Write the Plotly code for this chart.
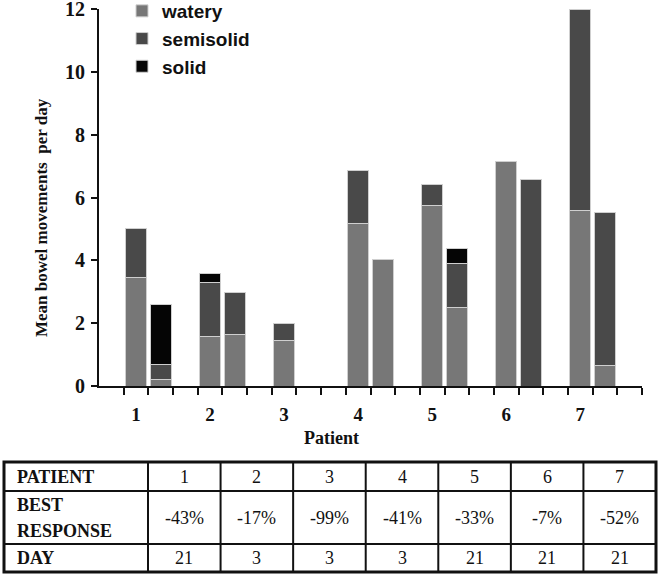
import plotly.graph_objects as go

# ---------------- data ----------------
patients = ["1", "2", "3", "4", "5", "6", "7"]
# first bar of each patient
watery_first = [3.45, 1.57, 1.46, 5.18, 5.74, 7.16, 5.58]
semisolid_first = [1.57, 1.73, 0.52, 1.69, 0.68, 0.0, 6.42]
solid_first = [0.0, 0.29, 0.0, 0.0, 0.0, 0.0, 0.0]
# second bar of each patient
watery_second = [0.21, 1.65, 0.0, 4.03, 2.51, 0.0, 0.65]
semisolid_second = [0.46, 1.33, 0.0, 0.0, 1.38, 6.56, 4.87]
solid_second = [1.91, 0.0, 0.0, 0.0, 0.49, 0.0, 0.0]

y_ticks = [0, 2, 4, 6, 8, 10, 12]

table_row_labels = ["PATIENT", "BEST RESPONSE", "DAY"]
best_response = ["-43%", "-17%", "-99%", "-41%", "-33%", "-7%", "-52%"]
day = ["21", "3", "3", "3", "21", "21", "21"]

series_names = ["watery", "semisolid", "solid"]
colors = {"watery": "#777777", "semisolid": "#494949", "solid": "#050505"}

# ---------------- layout helpers ----------------
W, H = 660, 577
PL, PR, PT, PB = 99, 642, 9, 386   # plot area in pixels


def px(x):
    return (x - PL) / (PR - PL)


def py(y):
    return (PB - y) / (PB - PT)


n = len(patients)
x_first = [3 * i + 1.5 for i in range(n)]
x_second = [3 * i + 2.5 for i in range(n)]
x_bars = x_first + x_second


def nz(v):
    return [val if val > 0 else None for val in v]


series = {
    "watery": watery_first + watery_second,
    "semisolid": semisolid_first + semisolid_second,
    "solid": solid_first + solid_second,
}

fig = go.Figure()
for name in series_names:
    fig.add_trace(go.Bar(
        x=x_bars, y=nz(series[name]), name=name,
        width=0.85,
        marker=dict(color=colors[name], line=dict(color="#cfcfcf", width=1)),
    ))

serif = "Liberation Serif, Times New Roman, serif"
sans = "Liberation Sans, Arial, sans-serif"

fig.update_layout(
    width=W, height=H,
    barmode="stack",
    plot_bgcolor="white", paper_bgcolor="white",
    margin=dict(l=PL, r=W - PR, t=PT, b=H - PB, autoexpand=False),
    showlegend=True,
    legend=dict(
        x=px(122), y=py(-8), xanchor="left", yanchor="top",
        font=dict(family=sans, size=19, color="#111111", weight="bold"),
        bgcolor="rgba(0,0,0,0)", traceorder="normal",
        itemwidth=30,
    ),
    xaxis=dict(
        range=[0, 3 * n + 1], showgrid=False, zeroline=False,
        showline=True, linecolor="#111111", linewidth=2,
        tickmode="array", tickvals=x_first, ticktext=patients,
        ticks="", ticklabelstandoff=10,
        tickfont=dict(family=serif, size=19, color="#111111", weight="bold"),
        minor=dict(tickmode="array", tickvals=list(range(1, 3 * n + 2)),
                   ticks="outside", ticklen=7, tickwidth=2, tickcolor="#111111"),
    ),
    yaxis=dict(
        range=[0, 12], showgrid=False, zeroline=False,
        showline=True, linecolor="#111111", linewidth=2,
        tickmode="array", tickvals=y_ticks,
        ticks="outside", ticklen=6, tickwidth=2, tickcolor="#111111",
        ticklabeloverflow="allow", ticklabelstandoff=2,
        tickfont=dict(family=serif, size=20, color="#111111", weight="bold"),
    ),
)

annotations = [
    dict(text="Patient", x=px(331), y=py(438), xref="paper", yref="paper",
         xanchor="center", yanchor="middle",
         showarrow=False, font=dict(family=serif, size=18, color="#111111", weight="bold")),
    dict(text="Mean bowel movements  per day", x=px(42), y=py(218), xref="paper", yref="paper",
         xanchor="center", yanchor="middle",
         textangle=-90, showarrow=False,
         font=dict(family=serif, size=17, color="#111111", weight="bold")),
]

# ---------------- table ----------------
T_L, T_R, T_T, T_B = 4, 656, 462, 572
col0 = 148
row_lines = [491, 544]
col_w = (T_R - col0) / n
shapes = [dict(type="rect", xref="paper", yref="paper",
               x0=px(T_L), x1=px(T_R), y0=py(T_T), y1=py(T_B),
               line=dict(color="#111111", width=3))]
for yl in row_lines:
    shapes.append(dict(type="line", xref="paper", yref="paper",
                       x0=px(T_L), x1=px(T_R), y0=py(yl), y1=py(yl),
                       line=dict(color="#111111", width=2)))
for k in range(n):
    xl = col0 + k * col_w
    shapes.append(dict(type="line", xref="paper", yref="paper",
                       x0=px(xl), x1=px(xl), y0=py(T_T), y1=py(T_B),
                       line=dict(color="#111111", width=2)))

row_centers = [476.5, 517.5, 558]
bold_font = dict(family=serif, size=18, color="#111111", weight="bold")
reg_font = dict(family=serif, size=18, color="#111111")


def cell(text, x, y, font, xanchor="center"):
    return dict(text=text, x=px(x), y=py(y), xref="paper", yref="paper",
                xanchor=xanchor, yanchor="middle", showarrow=False, font=font)


annotations.append(cell(table_row_labels[0], 15, row_centers[0], bold_font, "left"))
br_words = table_row_labels[1].split(" ")
for j, w in enumerate(br_words):
    annotations.append(cell(w, 15, row_centers[1] - 13 + 26 * j, bold_font, "left"))
annotations.append(cell(table_row_labels[2], 15, row_centers[2], bold_font, "left"))

for k in range(n):
    xc = col0 + (k + 0.5) * col_w
    for r, val in enumerate([patients[k], best_response[k], day[k]]):
        annotations.append(cell(val, xc, row_centers[r], reg_font))

fig.update_layout(shapes=shapes, annotations=annotations)
fig.write_html("out.html", config={"displayModeBar": False},
               post_script="document.body.style.margin='0';")
